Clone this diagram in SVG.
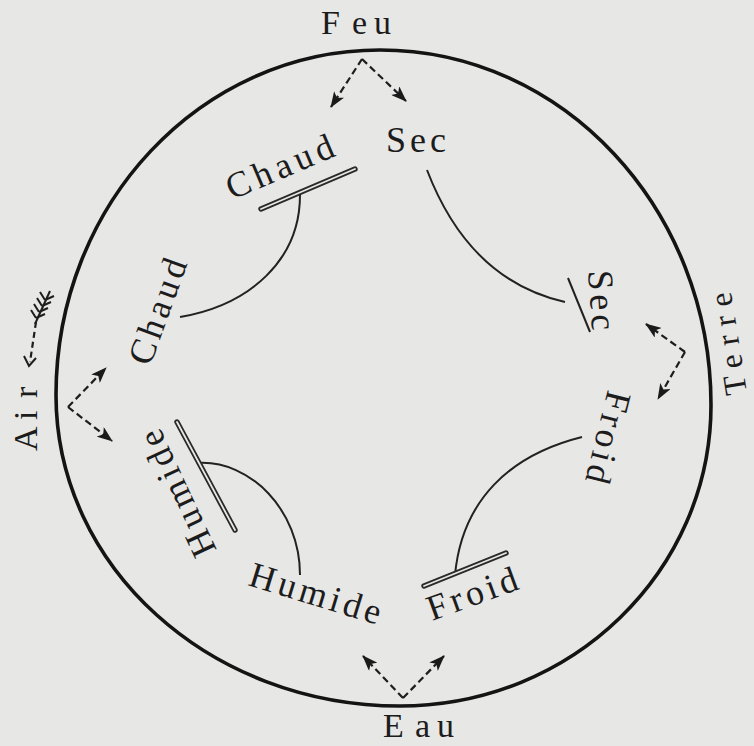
<svg xmlns="http://www.w3.org/2000/svg" width="754" height="746" viewBox="0 0 754 746">
<defs>
<style>
.bg{fill:#e7e7e5}
.lbl{font-family:"Liberation Serif","DejaVu Serif",serif;fill:#1c1c1c}
.outer{font-size:34px}
.inner{font-size:36px;letter-spacing:5px}
.rim{fill:none;stroke:#141414;stroke-width:3.6}
.arc{fill:none;stroke:#222;stroke-width:2}
.dash{fill:none;stroke:#1e1e1e;stroke-width:2.2;stroke-dasharray:7 4}
.dbl1{fill:none;stroke:#2a2a2a;stroke-width:5.4;stroke-linecap:round}
.dbl2{fill:none;stroke:#e7e7e5;stroke-width:1.8;stroke-linecap:round}
.single{fill:none;stroke:#222;stroke-width:2}
.fl{fill:none;stroke:#1e1e1e;stroke-width:2}
</style>
<marker id="ah" viewBox="0 0 16 12" refX="15" refY="6" markerWidth="16" markerHeight="12" markerUnits="userSpaceOnUse" orient="auto">
<path d="M0,0 L16,6 L0,12 L4,6 Z" fill="#1a1a1a"/>
</marker>
</defs>
<rect class="bg" x="0" y="0" width="754" height="746"/>

<g id="circle">
<path class="rim" d="M380,50 C563,50 711,209 711,405 C711,571 572,706 400,706 C210,706 56,567 56,395 C56,204 201,50 380,50 Z"/>
</g>

<g id="connectors">
<path class="dash" d="M362,59 L331,107" marker-end="url(#ah)"/>
<path class="dash" d="M362,59 L406,101" marker-end="url(#ah)"/>
<path class="dash" d="M685,352 L646,324" marker-end="url(#ah)"/>
<path class="dash" d="M685,352 L658,399" marker-end="url(#ah)"/>
<path class="dash" d="M403,698 L363,656" marker-end="url(#ah)"/>
<path class="dash" d="M403,698 L444,656" marker-end="url(#ah)"/>
<path class="dash" d="M68,407 L106,368" marker-end="url(#ah)"/>
<path class="dash" d="M68,407 L112,441" marker-end="url(#ah)"/>
<path class="arc" d="M300,195 C300,260 250,305 180,317"/>
<path class="arc" d="M427,170 C450,230 490,285 565,302"/>
<path class="arc" d="M582,437 C510,455 462,500 455,575"/>
<path class="arc" d="M198,463 C250,460 300,510 300,575"/>
</g>

<g id="feu">
<text class="lbl outer" x="321 352 374" y="34">Feu</text>
</g>
<g id="eau">
<text class="lbl outer" x="383 415 437" y="737">Eau</text>
</g>
<g id="air">
<text class="lbl outer" transform="translate(37,451) rotate(-90)" x="0 31 53" y="0">Air</text>
<g id="air-arrow">
<path class="dash" d="M36,322 L30,362" style="stroke-dasharray:6 4"/>
<path class="fl" d="M24,356 L29,366 L36,358"/>
<path class="fl" d="M35,324 L50,291"/>
<path class="fl" d="M36,318 L31,310 M39,312 L34,304 M42,306 L37,298 M45,300 L40,292"/>
<path class="fl" d="M36,318 L45,314 M39,312 L48,308 M42,306 L51,302 M45,300 L54,296"/>
</g>
</g>
<g id="terre">
<text class="lbl outer" transform="translate(747,393) rotate(-99)" y="0" style="font-size:32px;letter-spacing:9px">Terre</text>
</g>

<g id="sec-top">
<text class="lbl inner" x="386" y="152" style="letter-spacing:4px">Sec</text>
</g>
<g id="chaud-top">
<text class="lbl inner" transform="translate(232,200) rotate(-23)">Chaud</text>
<path class="dbl1" d="M261,209 L355,169"/>
<path class="dbl2" d="M261,209 L355,169"/>
</g>
<g id="chaud-left">
<text class="lbl inner" transform="translate(150,367) rotate(-70)" style="letter-spacing:4px">Chaud</text>
</g>
<g id="sec-right">
<text class="lbl inner" transform="translate(588,271) rotate(86)" style="letter-spacing:4px">Sec</text>
<path class="single" d="M568,278 L590,332"/>
</g>
<g id="froid-right">
<text class="lbl inner" transform="translate(608,389) rotate(104)" style="letter-spacing:4px">Froid</text>
</g>
<g id="froid-bottom">
<text class="lbl inner" transform="translate(432,621) rotate(-20)" style="letter-spacing:4px">Froid</text>
<path class="dbl1" d="M424,586 L506,553"/>
<path class="dbl2" d="M424,586 L506,553"/>
</g>
<g id="humide-bottom">
<text class="lbl inner" transform="translate(247,585) rotate(17)" style="letter-spacing:4px">Humide</text>
</g>
<g id="humide-left">
<text class="lbl inner" transform="translate(217,550) rotate(-115)" style="letter-spacing:4px">Humide</text>
<path class="dbl1" d="M177,422 L235,530"/>
<path class="dbl2" d="M177,422 L235,530"/>
</g>
</svg>
